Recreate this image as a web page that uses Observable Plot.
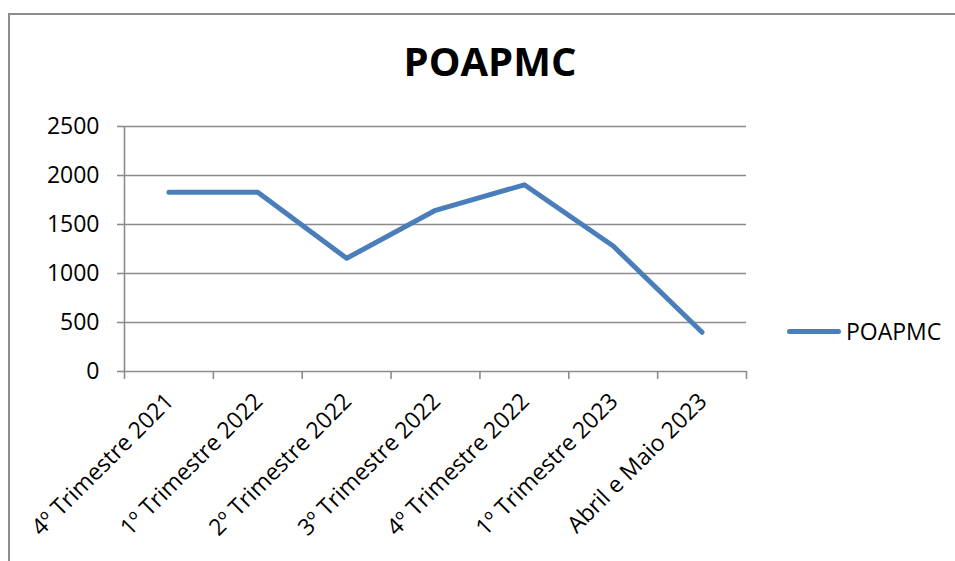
<!DOCTYPE html>
<html>
<head>
<meta charset="utf-8">
<script src="https://cdn.jsdelivr.net/npm/d3@7"></script>
<script src="https://cdn.jsdelivr.net/npm/@observablehq/plot@0.6"></script>
<style>
  html, body { margin: 0; padding: 0; background: #fff; }
  #wrap { position: relative; width: 955px; height: 561px; overflow: hidden; font-family: "Open Sans", sans-serif; }
  #frame { position: absolute; left: 8px; top: 13px; width: 960px; height: 600px; border-left: 2px solid #8c8c8c; border-top: 2px solid #8c8c8c; box-sizing: border-box; }
  #title { position: absolute; left: 0; width: 980px; top: 41px; text-align: center; font-weight: 700; font-size: 40px; color: #000; line-height: 1; }
  #chart { position: absolute; left: 0; top: 0; }
  #legend { position: absolute; left: 787px; top: 315px; display: flex; align-items: center; font-size: 23px; color: #000; }
  #legend .sw { width: 54px; height: 5px; border-radius: 3px; background: #4A7EBB; margin-right: 5px; }
</style>
</head>
<body>
<div id="wrap">
  <div id="frame"></div>
  <div id="chart"></div>
  <div id="title">POAPMC</div>
  <div id="legend"><span class="sw"></span><span>POAPMC</span></div>
</div>
<script>
const categories = ["4º Trimestre 2021", "1º Trimestre 2022", "2º Trimestre 2022", "3º Trimestre 2022", "4º Trimestre 2022", "1º Trimestre 2023", "Abril e Maio 2023"];
const values = [1830, 1830, 1155, 1645, 1905, 1280, 400];
const yTicks = [0, 500, 1000, 1500, 2000, 2500];
const seriesName = "POAPMC";

const data = categories.map((c, i) => ({i: i + 0.5, category: c, value: values[i]}));
const boundaries = d3.range(0, categories.length + 1);
const centers = data.map(d => d.i);

const grid = "#8c8c8c";
const chart = Plot.plot({
  width: 955,
  height: 561,
  marginLeft: 124,
  marginRight: 209,
  marginTop: 126,
  marginBottom: 190,
  style: {fontFamily: "Open Sans, sans-serif", fontSize: "23px", color: "#000", background: "transparent", overflow: "visible"},
  x: {domain: [0, categories.length]},
  y: {domain: [0, 2500]},
  marks: [
    Plot.gridY(yTicks, {stroke: grid, strokeOpacity: 1, strokeWidth: 1.6}),
    Plot.axisY(yTicks, {tickSize: 7, tickPadding: 18, stroke: grid, strokeWidth: 1.6, label: null, fontSize: 23, fill: "#000", tickFormat: d => String(d)}),
    Plot.ruleX([0], {stroke: grid, strokeWidth: 1.6}),
    Plot.axisX(boundaries, {tickSize: 8, tickFormat: () => "", stroke: grid, strokeWidth: 1.6, label: null}),
    Plot.axisX(centers, {tickSize: 0, tickRotate: -45, tickPadding: 26, dx: 1, tickFormat: v => categories[Math.round(v - 0.5)], label: null, fontSize: 23, fill: "#000"}),
    Plot.line(data, {x: "i", y: "value", stroke: "#4A7EBB", strokeWidth: 5, strokeLinecap: "round", strokeLinejoin: "round"})
  ]
});
document.getElementById("chart").appendChild(chart);
</script>
</body>
</html>
